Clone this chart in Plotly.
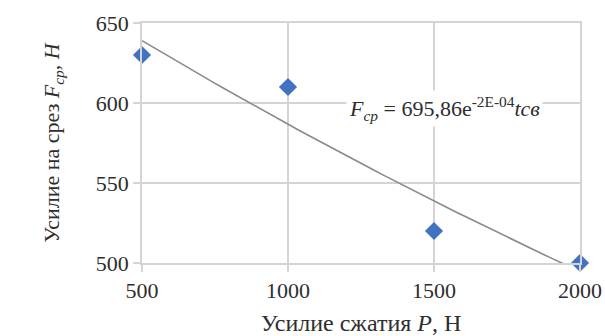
import numpy as np
import plotly.graph_objects as go

# Data
compression_force = [500, 1000, 1500, 2000]      # P, H
shear_force = [630, 610, 520, 500]                # F_cp, H
x_ticks = [500, 1000, 1500, 2000]
y_ticks = [500, 550, 600, 650]

# Exponential trendline fitted to the points (as Excel does)
b, ln_a = np.polyfit(compression_force, np.log(shear_force), 1)
trend_x = np.linspace(500, 2000, 61)
trend_y = np.exp(ln_a) * np.exp(b * trend_x)

grid = "#d4d4d4"
font = "Times New Roman, Tinos, Liberation Serif, Noto Serif, DejaVu Serif, serif"
txt = "#2e2e2e"

fig = go.Figure()
fig.add_trace(go.Scatter(x=trend_x, y=trend_y, mode="lines",
                         line=dict(color="#8a8a8a", width=1.6),
                         hoverinfo="skip", showlegend=False))
fig.add_trace(go.Scatter(x=compression_force, y=shear_force, mode="markers",
                         marker=dict(symbol="diamond", size=14, color="#4173C2",
                                     line=dict(width=0)),
                         showlegend=False, cliponaxis=False))

fig.add_annotation(x=1535, y=596.5, xref="x", yref="y", showarrow=False,
                   text="<i>F</i><sub><i>ср</i></sub> = 695,86e<sup>-2E-04</sup><i>tсв</i>",
                   font=dict(family=font, size=22, color=txt),
                   bgcolor="white", borderpad=2)

fig.update_xaxes(range=[500, 2000], tickvals=x_ticks, showgrid=True, gridcolor=grid,
                 gridwidth=1.5, showline=True, linecolor=grid, linewidth=1.5, mirror=True,
                 ticks="outside", ticklen=7, tickcolor=grid, tickwidth=1.5,
                 tickfont=dict(family=font, size=22, color=txt), zeroline=False,
                 automargin=False,
                 title=dict(text="Усилие сжатия <i>P</i>, Н", standoff=14,
                            font=dict(family=font, size=24, color=txt)))
fig.update_yaxes(range=[500, 650], tickvals=y_ticks, showgrid=True, gridcolor=grid,
                 gridwidth=1.5, showline=True, linecolor=grid, linewidth=1.5, mirror=True,
                 ticks="outside", ticklen=7, tickcolor=grid, tickwidth=1.5,
                 tickfont=dict(family=font, size=22, color=txt), zeroline=False,
                 automargin=False,
                 title=dict(text="Усилие на срез <i>F</i><sub><i>ср</i></sub>, <i>Н</i>", standoff=30,
                            font=dict(family=font, size=22, color=txt)))

fig.update_layout(width=605, height=336, plot_bgcolor="white", paper_bgcolor="white",
                  font=dict(family=font),
                  margin=dict(l=142, r=25, t=23, b=73))

fig.write_html("out.html")
